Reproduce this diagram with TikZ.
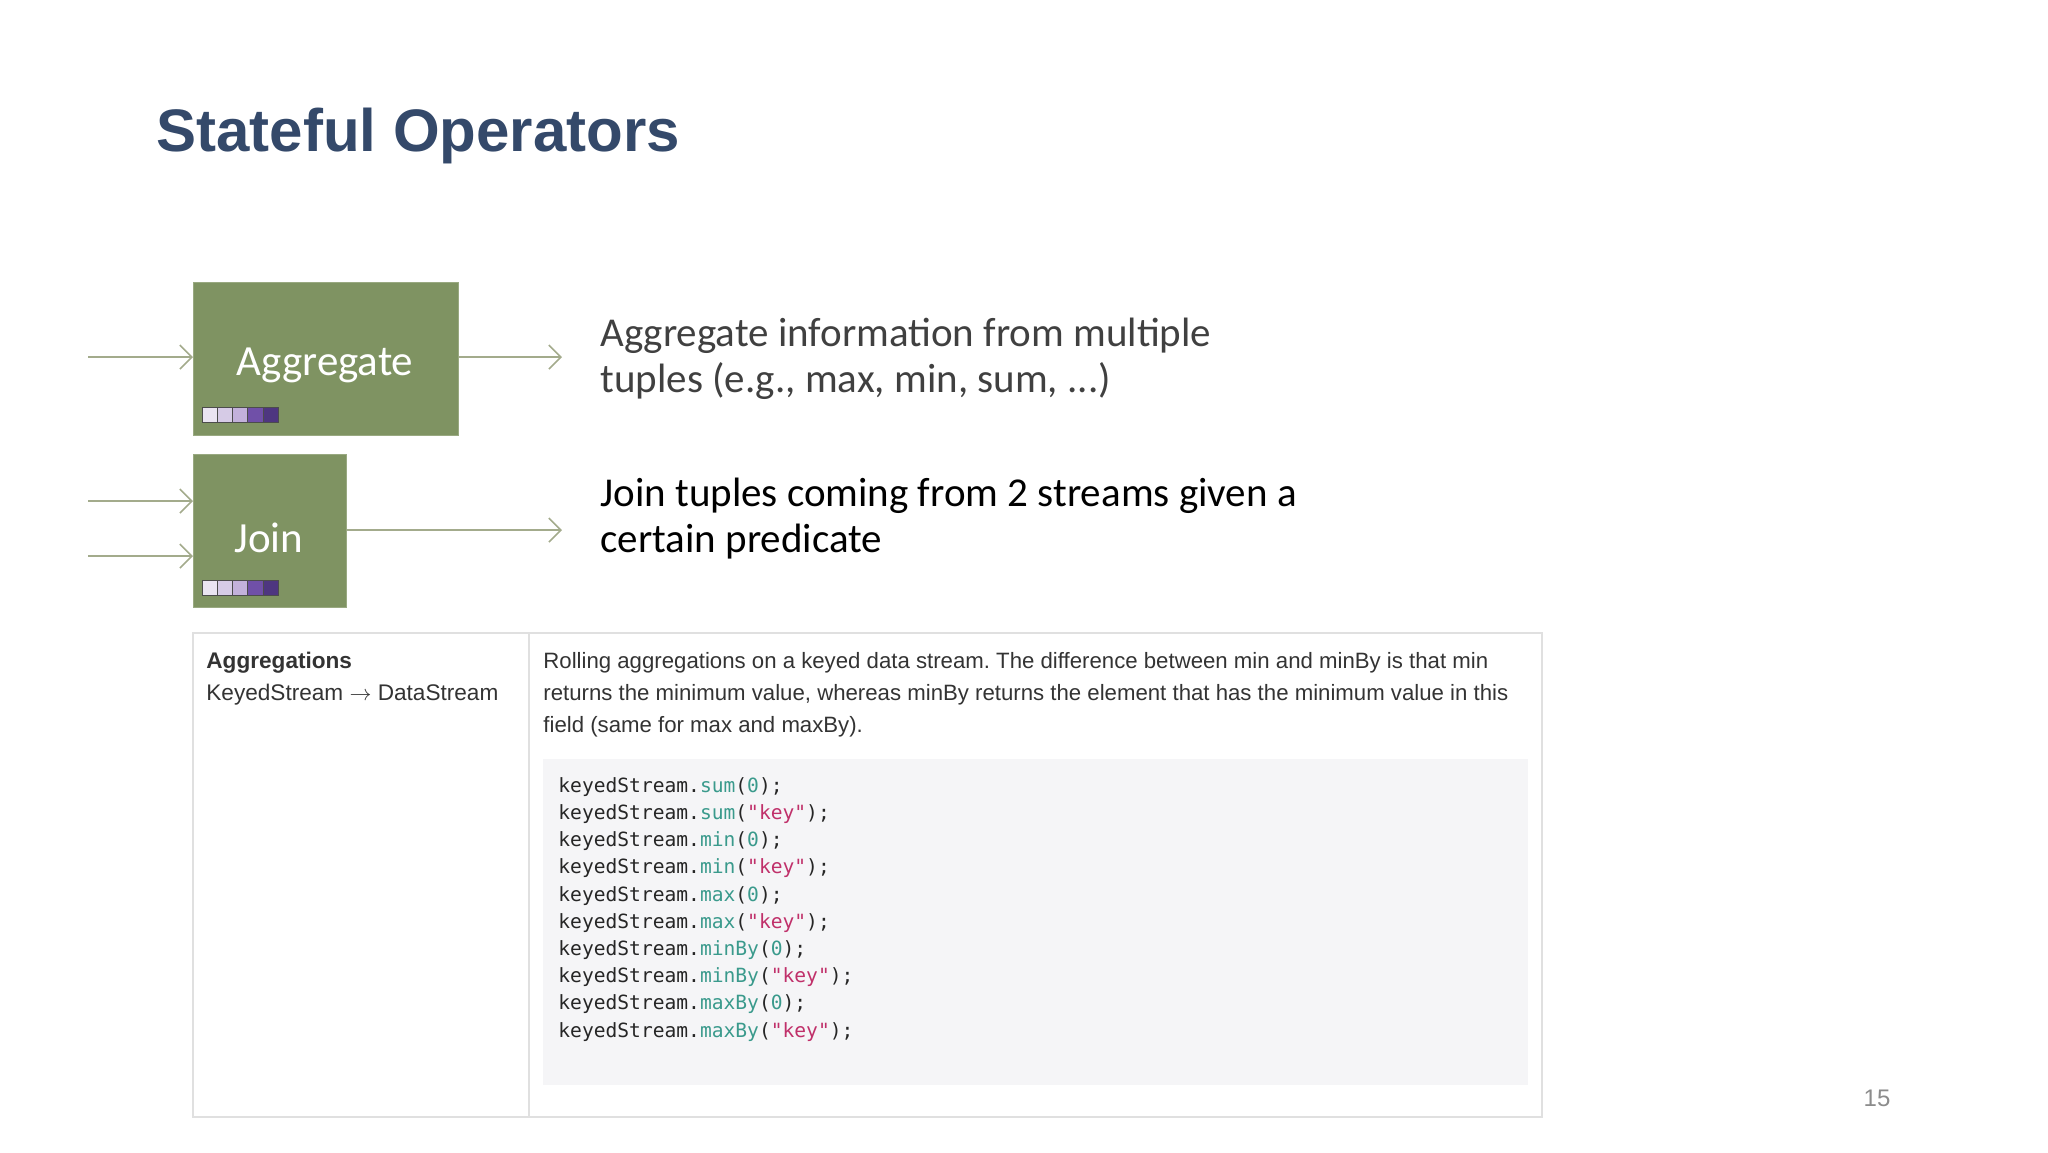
\documentclass[tikz,border=0pt]{standalone}
\usepackage{fontspec}
\setmainfont{Carlito}
\newfontfamily\hel{Liberation Sans}
\newfontfamily\codef{DejaVu Sans Mono}
\usetikzlibrary{arrows.meta}
\definecolor{titleblue}{HTML}{34496A}
\definecolor{opgreen}{HTML}{7F9362}
\definecolor{arrowc}{HTML}{A3AB8C}
\definecolor{codebg}{HTML}{F5F5F7}
\definecolor{fn}{HTML}{3A9A8C}
\definecolor{str}{HTML}{C0306A}
\definecolor{sq1}{HTML}{EAE4F2}
\definecolor{sq2}{HTML}{D6CBE6}
\definecolor{sq3}{HTML}{C3B1DB}
\definecolor{sq4}{HTML}{7050A8}
\definecolor{sq5}{HTML}{4E3680}
\newcommand{\kline}[2]{keyedStream.\textcolor{fn}{#1}(#2);}
\begin{document}
\begin{tikzpicture}[x=0.5pt,y=-0.5pt,
  op/.style={fill=opgreen, draw=opgreen!80!white, text=white, inner sep=0pt},
  flow/.style={draw=arrowc, line width=0.8pt, -{Straight Barb[length=6pt,width=12pt,line width=0.8pt]}},
  desc/.style={anchor=north west, align=left, font=\fontsize{20.5}{23}\selectfont, inner sep=0pt},
  tbl/.style={draw=black!12, line width=0.6pt}]
\useasboundingbox (0,0) rectangle (2048,1152);
\node[anchor=west, text=titleblue, font=\hel\bfseries\fontsize{30}{36}\selectfont, inner sep=0pt] (title) at (156,136) {Stateful Operators};
% operator boxes
\node[op, minimum width=132.5pt, minimum height=76.5pt, anchor=north west] (agg) at (193,282) {};
\node[text=white, font=\fontsize{21.5}{24}\selectfont] (agglbl) at (325,365) {Aggregate};
\node[op, minimum width=76.5pt, minimum height=76.5pt, anchor=north west] (join) at (193,454) {};
\node[text=white, font=\fontsize{21.5}{24}\selectfont] (joinlbl) at (269,538) {Join};
% small squares
\foreach \c [count=\i] in {sq1,sq2,sq3,sq4,sq5}{
  \fill[\c, draw=black!70, line width=0.3pt] (202+15.2*\i-15.2,407) rectangle ++(15.2,15);
  \fill[\c, draw=black!70, line width=0.3pt] (202+15.2*\i-15.2,580) rectangle ++(15.2,15);
}
% arrows
\coordinate (a0) at (88,357); \coordinate (a1) at (562,357);
\coordinate (j0) at (88,501); \coordinate (j1) at (88,556); \coordinate (j2) at (562,530);
\draw[flow] (a0) -- (agg.west |- a0);
\draw[flow] (agg.east |- a1) -- (a1);
\draw[flow] (j0) -- (join.west |- j0);
\draw[flow] (j1) -- (join.west |- j1);
\draw[flow] (join.east |- j2) -- (j2);
\node[desc, text=black!75] (aggtxt) at (600,318) {Aggregate information from multiple\\tuples (e.g., max, min, sum, ...)};
\node[desc, text=black] (jointxt) at (600,478) {Join tuples coming from 2 streams given a\\certain predicate};
% table
\draw[tbl] (193,633) rectangle (1542,1117);
\draw[tbl] (529,633) -- (529,1117);
\node[anchor=north west, inner sep=0pt, align=left, font=\hel\fontsize{11.3}{16}\selectfont, text=black!80] (left) at (206,652) {\textbf{Aggregations}\\KeyedStream $\rightarrow$ DataStream};
\node[anchor=north west, inner sep=0pt, align=left, font=\hel\fontsize{11.1}{16}\selectfont, text=black!80] (right) at (543,652) {Rolling aggregations on a keyed data stream.\ The difference between min and minBy is that min\\returns the minimum value, whereas minBy returns the element that has the minimum value in this\\field (same for max and maxBy).};
\fill[codebg] (543,759) rectangle (1528,1085);
\node[anchor=north west, inner sep=0pt, align=left, font=\codef\fontsize{9.8}{13.6}\selectfont, text=black!85] (code) at (558,777) {%
\kline{sum}{\textcolor{fn}{0}}\\
\kline{sum}{\textcolor{str}{"key"}}\\
\kline{min}{\textcolor{fn}{0}}\\
\kline{min}{\textcolor{str}{"key"}}\\
\kline{max}{\textcolor{fn}{0}}\\
\kline{max}{\textcolor{str}{"key"}}\\
\kline{minBy}{\textcolor{fn}{0}}\\
\kline{minBy}{\textcolor{str}{"key"}}\\
\kline{maxBy}{\textcolor{fn}{0}}\\
\kline{maxBy}{\textcolor{str}{"key"}}};
\node[text=black!45, font=\hel\fontsize{12}{14}\selectfont] (page) at (1877,1098) {15};
\end{tikzpicture}
\end{document}
